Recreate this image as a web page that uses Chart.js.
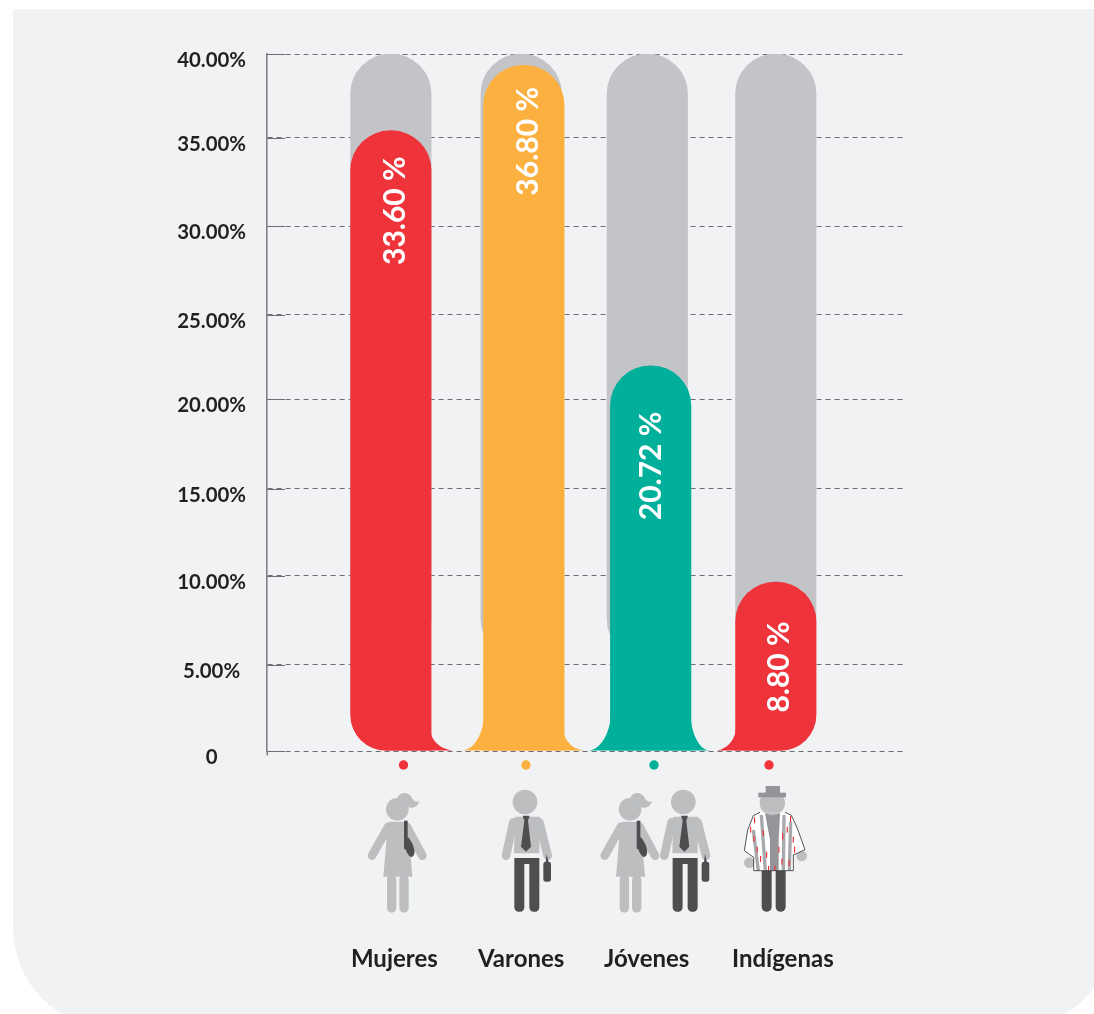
<!DOCTYPE html>
<html><head><meta charset="utf-8">
<style>
html,body{margin:0;padding:0;background:#fff;overflow:hidden;width:1094px;height:1014px}
#panel{position:absolute;left:13px;top:9px;width:1101px;height:1019px;background:#f1f2f4;border-radius:0 0 100px 100px}
canvas{position:absolute;left:0;top:0}
</style>
<script src="https://cdn.jsdelivr.net/npm/chart.js@4/dist/chart.umd.min.js"></script>
</head><body>
<div id="panel"></div>
<canvas id="c" width="1094" height="1014"></canvas>
<script>
// ---- data ----
const categories = ['Mujeres','Varones','Jóvenes','Indígenas'];
const printedValues = ['33.60 %','36.80 %','20.72 %','8.80 %'];
const drawnHeights = [35.6, 39.35, 22.1, 9.7];   // height of each coloured bar against the axis
const trackTop = [40, 40, 40, 40];
const trackBottom = [5.3, 5.3, 5.3, 5.3];
const tickLabels = ['0','5.00%','10.00%','15.00%','20.00%','25.00%','30.00%','35.00%','40.00%'];
const tickValues = [0,5,10,15,20,25,30,35,40];

// ---- layout / style ----
const C = {red:'#ee333b',orange:'#fbb040',teal:'#00b09b',track:'#c2c4c8',ink:'#231f20',rule:'#6d6e71',axis:'#808285',light:'#bcbec0',dark:'#4d4e50',mid:'#939598',stripe:'#a7a9ac'};
const barColors = [C.red,C.orange,C.teal,C.red];
const pitch = 128.33;
const trackNudge = [0,2,-0.2,0];          // px
const barNudge = [0,4.7,3.2,0];           // px
const labelNudge = [3.5,2,-0.8,7];        // px
const gridNudge = [0,-0.06,0.05,0.05,0.2,0.04,0.12,0.2,0]; // uneven rules of the original
const textShift = [4.5,4.5,0.5,3.5];      // px from bar centre
const textFromTop = [80,76,100,85];       // px, centre of the rotated text below bar top
const dotX = [403.5,526,654,769];
const flares = [ // [leftW,leftH,rightW,rightH]
  [0,0,24,21],[22,38,22,21],[22.5,39,19,39],[20.7,24,0,0]
];
const font = 'Lato';

const plugin = {
  id:'deco',
  beforeDatasetsDraw(ch){
    const {ctx,scales:{y}}=ch;
    ctx.save();ctx.strokeStyle=C.rule;ctx.lineWidth=1;
    y.ticks.forEach(t=>{const p=Math.round(y.getPixelForValue(t.value))+.5;ctx.beginPath();ctx.moveTo(267,p);ctx.lineTo(285,p);ctx.stroke();});
    ctx.strokeStyle=C.axis;ctx.lineWidth=1.6;ctx.beginPath();ctx.moveTo(267.3,ch.chartArea.bottom);ctx.lineTo(267.3,755.5);ctx.stroke();
    ctx.restore();
  },
  afterDatasetsDraw(ch){
    const {ctx}=ch; const bars=ch.getDatasetMeta(1).data;
    const k=.5523;
    bars.forEach((b,i)=>{
      const L=b.x-b.width/2,R=b.x+b.width/2,B=b.base,[lw,lh,rw,rh]=flares[i];
      ctx.fillStyle=barColors[i];
      if(lw){ctx.beginPath();ctx.moveTo(L+.5,B-lh);ctx.bezierCurveTo(L+.5,B-lh*(1-k),L-lw*(1-k),B,L-lw,B);ctx.lineTo(L+.5,B);ctx.closePath();ctx.fill();}
      if(rw){ctx.beginPath();ctx.moveTo(R-.5,B-rh);ctx.bezierCurveTo(R-.5,B-rh*(1-k),R+rw*(1-k),B,R+rw,B);ctx.lineTo(R-.5,B);ctx.closePath();ctx.fill();}
      // printed value, rotated
      ctx.save();ctx.translate(b.x+textShift[i],b.y+textFromTop[i]);ctx.rotate(-Math.PI/2);
      ctx.fillStyle='#fff';ctx.font='700 30px '+font;ctx.textAlign='center';ctx.textBaseline='middle';
      ctx.fillText(printedValues[i],0,0);ctx.restore();
      // dot
      ctx.beginPath();ctx.arc(dotX[i],765,4.7,0,7);ctx.fill();
    });
    woman(ctx,340,780);
    man(ctx,340,780);
    woman(ctx,340+232.7,780);
    man(ctx,340+158.3,780);
    indigenous(ctx,590,780);
  }
};
function rr(ctx,x,y,w,h,r){ctx.beginPath();ctx.roundRect(x,y,w,h,r);ctx.fill();}
function limb(ctx,x1,y1,x2,y2,w){ctx.lineWidth=w;ctx.lineCap='round';ctx.beginPath();ctx.moveTo(x1,y1);ctx.lineTo(x2,y2);ctx.stroke();}
function woman(ctx,ox,oy){
  ctx.save();ctx.translate(ox,oy);ctx.scale(1/3,1/3);
  ctx.fillStyle=C.light;ctx.strokeStyle=C.light;
  ctx.beginPath();ctx.arc(172,88,34,0,7);ctx.fill();
  ctx.beginPath();ctx.moveTo(172,58);ctx.bezierCurveTo(175,36,202,33,214,50);ctx.bezierCurveTo(220,62,228,68,238,64);ctx.bezierCurveTo(232,84,215,86,202,80);ctx.closePath();ctx.fill();
  ctx.beginPath();ctx.moveTo(148,125);ctx.lineTo(197,125);ctx.lineTo(207,170);ctx.lineTo(217,290);ctx.lineTo(130,290);ctx.lineTo(140,170);ctx.closePath();ctx.fill();
  limb(ctx,145,140,96,227,26);limb(ctx,200,140,247,227,26);
  rr(ctx,141,285,28,113,14);rr(ctx,178,285,28,113,14);
  ctx.fillStyle=C.dark;
  ctx.fillRect(192,122,11,85);
  ctx.beginPath();ctx.moveTo(203,170);ctx.bezierCurveTo(222,190,232,225,215,231);ctx.bezierCurveTo(205,231,200,215,195,205);ctx.closePath();ctx.fill();
  ctx.restore();
}
function man(ctx,ox,oy){
  ctx.save();ctx.translate(ox,oy);ctx.scale(1/3,1/3);
  ctx.fillStyle=C.light;ctx.strokeStyle=C.light;
  ctx.beginPath();ctx.arc(555,66,37,0,7);ctx.fill();
  ctx.beginPath();ctx.moveTo(525,110);ctx.lineTo(600,110);ctx.lineTo(598,220);ctx.lineTo(522,220);ctx.closePath();ctx.fill();
  limb(ctx,520,127,498,227,26);limb(ctx,598,127,623,227,26);
  ctx.fillStyle=C.dark;
  ctx.beginPath();ctx.moveTo(523,234);ctx.lineTo(598,234);ctx.lineTo(598,382);ctx.arcTo(598,395,585,395,13);ctx.arcTo(568,395,568,382,13);ctx.lineTo(568,252);ctx.lineTo(553,252);ctx.lineTo(553,382);ctx.arcTo(553,395,540,395,13);ctx.arcTo(523,395,523,382,13);ctx.closePath();ctx.fill();
  ctx.beginPath();ctx.moveTo(548,107);ctx.lineTo(569,107);ctx.lineTo(564,122);ctx.lineTo(573,200);ctx.lineTo(558,215);ctx.lineTo(543,200);ctx.lineTo(553,122);ctx.closePath();ctx.fill();
  rr(ctx,610,245,23,60,8);
  ctx.beginPath();ctx.moveTo(617,247);ctx.lineTo(620,222);ctx.lineTo(626,247);ctx.closePath();ctx.fill();
  ctx.restore();
}
function ponchoPath(ctx){
  ctx.beginPath();
  ctx.moveTo(510,97);ctx.lineTo(490,107);ctx.lineTo(473,150);ctx.lineTo(463,212);ctx.lineTo(491,232);ctx.lineTo(491,272);ctx.lineTo(610,272);ctx.lineTo(610,225);ctx.lineTo(645,209);ctx.lineTo(622,145);ctx.lineTo(604,106);ctx.lineTo(585,97);
}
function indigenous(ctx,ox,oy){
  ctx.save();ctx.translate(ox,oy);ctx.scale(1/3,1/3);
  ctx.fillStyle=C.dark;
  rr(ctx,515,260,30,135,[0,0,14,14]);rr(ctx,557,260,30,135,[0,0,14,14]);
  ctx.fillStyle=C.light;
  ctx.beginPath();ctx.arc(478,248,16,0,7);ctx.fill();
  ctx.beginPath();ctx.arc(635,228,16,0,7);ctx.fill();
  ctx.beginPath();ctx.arc(547,68,38,0,7);ctx.fill();
  // poncho
  ponchoPath(ctx);ctx.closePath();
  ctx.fillStyle='#fff';ctx.fill();
  ctx.save();ctx.clip();
  ctx.fillStyle=C.stripe;
  [[514,105,526,272],[490,150,505,272],[582,105,580,272],[602,125,598,272]].forEach(([x1,y1,x2,y2])=>{
    ctx.beginPath();ctx.moveTo(x1-5,y1);ctx.lineTo(x1+5,y1);ctx.lineTo(x2+5,y2);ctx.lineTo(x2-5,y2);ctx.closePath();ctx.fill();
  });
  ctx.fillStyle=C.mid;
  ctx.beginPath();ctx.moveTo(525,100);ctx.lineTo(570,100);ctx.lineTo(566,180);ctx.lineTo(566,272);ctx.lineTo(540,272);ctx.lineTo(540,180);ctx.closePath();ctx.fill();
  ctx.fillStyle=C.light;
  ctx.beginPath();ctx.arc(547,68,38,0,7);ctx.fill();
  ctx.fillStyle=C.red;
  [[480,140],[490,168],[500,200],[510,228],[528,215],[534,258],[492,112],[518,150],[565,200],[574,236],[576,160],[590,140],[600,108],[608,170],[612,200],[596,240],[553,258]].forEach(([x,y])=>ctx.fillRect(x,y,3.5,18));
  ctx.restore();
  ponchoPath(ctx);
  ctx.strokeStyle='#333';ctx.lineWidth=2.5;ctx.stroke();
  ctx.fillStyle=C.mid;
  ctx.fillRect(527,18,43,22);ctx.fillRect(505,38,83,14);
  ctx.restore();
}

new Chart(document.getElementById('c'),{
  type:'bar',
  plugins:[plugin],
  data:{datasets:[
    {data:categories.map((c,i)=>({x:i+trackNudge[i]/pitch,y:[trackBottom[i],trackTop[i]]})),
     backgroundColor:C.track,borderRadius:40,borderSkipped:false,barThickness:80.5,grouped:false,order:2},
    {data:categories.map((c,i)=>({x:i+barNudge[i]/pitch,y:drawnHeights[i]})),
     backgroundColor:barColors,barThickness:80.5,grouped:false,order:1,borderSkipped:false,
     borderRadius:(ctx)=>{const i=ctx.dataIndex;return {topLeft:40,topRight:40,bottomLeft:flares[i]&&flares[i][0]?0:36,bottomRight:flares[i]&&flares[i][2]?0:36};}}
  ]},
  options:{
    responsive:false,animation:false,devicePixelRatio:1,
    layout:{padding:{top:54,right:191,left:0,bottom:0}},
    plugins:{legend:{display:false},tooltip:{enabled:false}},
    scales:{
      x:{type:'linear',min:-0.965,max:3.991,offset:false,
        grid:{display:false,drawTicks:false},border:{display:false},
        afterBuildTicks:s=>{s.ticks=categories.map((c,i)=>({value:i+labelNudge[i]/pitch}));},
        afterFit:s=>{s.height=263;},
        ticks:{autoSkip:false,maxRotation:0,padding:194,color:C.ink,font:{family:font,weight:'700',size:24},callback:(v,i)=>categories[i]}},
      y:{min:0,max:40,
        afterBuildTicks:s=>{s.ticks=tickValues.map((v,i)=>({value:v+gridNudge[i]}));},
        afterFit:s=>{s.width=267;},
        grid:{color:C.rule,lineWidth:1,drawTicks:false},
        border:{display:true,color:C.axis,width:1.6,dash:[5,4]},
        ticks:{autoSkip:false,crossAlign:'center',padding:21,labelOffset:6.5,color:C.ink,font:{family:font,weight:'700',size:20.4},callback:(v,i)=>tickLabels[i]}}
    }
  }
});
</script>
</body></html>
